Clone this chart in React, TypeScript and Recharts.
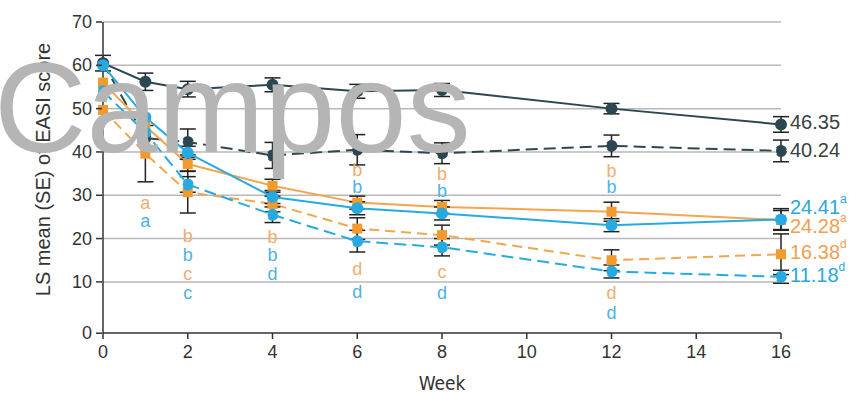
import React from 'react';
import {
  LineChart, Line, XAxis, YAxis, CartesianGrid, ErrorBar, ReferenceDot, Label,
} from 'recharts';

const weeks = [0, 1, 2, 4, 6, 8, 12, 16];

// Series values (LS mean EASI score)
const darkSolid = [60.5, 56.2, 54.5, 55.5, 54.0, 54.3, 50.0, 46.35];
const darkSolidErr = [1.8, 2.0, 1.8, 1.6, 1.6, 1.5, 1.2, 1.8];
const darkDashed = [60.5, 43.2, 42.3, 39.2, 40.5, 39.7, 41.4, 40.24];
const darkDashedErr = [null, null, 3.0, 3.0, 3.5, 2.4, 2.5, 2.5];
const orangeSolid = [56.0, 46.0, 37.2, 32.2, 28.3, 27.3, 26.2, 24.28];
const orangeSolidErr = [null, null, 1.6, 1.5, 1.5, 1.5, 2.2, 2.2];
const blueSolid = [60.0, 48.0, 39.8, 29.6, 27.0, 25.8, 23.1, 24.41];
const blueSolidErr = [null, null, 1.5, 1.5, 1.5, 1.5, 1.5, 2.5];
const orangeDashed = [49.7, 39.6, 30.7, 28.0, 22.3, 20.8, 15.0, 16.38];
const orangeDashedErr = [null, 6.5, 4.8, 1.8, 2.5, 2.3, 2.4, 4.7];
const blueDashed = [54.0, 44.5, 32.5, 25.5, 19.4, 18.0, 12.4, 11.18];
const blueDashedErr = [null, null, 1.8, 1.8, 2.5, 2.0, 1.5, 1.5];

const xTicks = [0, 2, 4, 6, 8, 10, 12, 14, 16];
const yTicks = [0, 10, 20, 30, 40, 50, 60, 70];
const gridValues = [10, 20, 30, 40, 50, 60, 70];

// Significance letters: week, letter, value level
const orangeLetters = [
  { week: 1, text: 'a', level: 28.2 },
  { week: 2, text: 'b', level: 20.6 },
  { week: 2, text: 'c', level: 11.9 },
  { week: 4, text: 'b', level: 20.5 },
  { week: 6, text: 'b', level: 36.0 },
  { week: 6, text: 'd', level: 13.0 },
  { week: 8, text: 'b', level: 35.0 },
  { week: 8, text: 'c', level: 12.4 },
  { week: 12, text: 'b', level: 35.8 },
  { week: 12, text: 'd', level: 7.5 },
];
const blueLetters = [
  { week: 1, text: 'a', level: 24.1 },
  { week: 2, text: 'b', level: 16.3 },
  { week: 2, text: 'c', level: 7.6 },
  { week: 4, text: 'b', level: 16.3 },
  { week: 4, text: 'd', level: 11.8 },
  { week: 6, text: 'b', level: 32.1 },
  { week: 6, text: 'd', level: 7.8 },
  { week: 8, text: 'b', level: 31.0 },
  { week: 8, text: 'd', level: 7.6 },
  { week: 12, text: 'b', level: 32.1 },
  { week: 12, text: 'd', level: 2.9 },
];

// End labels
const endLabels = [
  { value: 46.35, text: '46.35', sup: '', color: '#3a3f42', dy: -2 },
  { value: 40.24, text: '40.24', sup: '', color: '#3a3f42', dy: -1 },
  { value: 24.41, text: '24.41', sup: 'a', color: '#2aa7dd', dy: -12 },
  { value: 24.28, text: '24.28', sup: 'a', color: '#f0a050', dy: 6 },
  { value: 16.38, text: '16.38', sup: 'd', color: '#f0a050', dy: -2 },
  { value: 11.18, text: '11.18', sup: 'd', color: '#2aa7dd', dy: -2 },
];

const data = weeks.map((w, i) => ({
  week: w,
  darkSolid: darkSolid[i], darkSolidErr: darkSolidErr[i],
  darkDashed: darkDashed[i], darkDashedErr: darkDashedErr[i],
  orangeSolid: orangeSolid[i], orangeSolidErr: orangeSolidErr[i],
  blueSolid: blueSolid[i], blueSolidErr: blueSolidErr[i],
  orangeDashed: orangeDashed[i], orangeDashedErr: orangeDashedErr[i],
  blueDashed: blueDashed[i], blueDashedErr: blueDashedErr[i],
}));

const DARK = '#2c4750';
const ORANGE = '#f39a2c';
const ORANGE_LINE = '#f2a64e';
const BLUE = '#27aae1';
const ORANGE_TXT = '#f1ad72';
const BLUE_TXT = '#4fb3e2';
const AXIS = '#333';
const FONT = '"Liberation Sans", Arial, sans-serif';
const NARROW = '"Liberation Sans Narrow", "DejaVu Sans Condensed", "Liberation Sans", sans-serif';

const SquareDot = (props: any) => {
  const { cx, cy } = props;
  if (cx == null || cy == null) return null;
  return <rect x={cx - 5} y={cy - 5} width={10} height={10} fill={ORANGE} />;
};

// Y tick: the zero label sits on the x-axis line in the original figure
const YTick = (props: any) => {
  const { x, y, payload } = props;
  const shift = payload.value === 0 ? 8 : 0;
  const yy = y + shift;
  return (
    <g>
      <line x1={x + 1} x2={x + 7} y1={yy} y2={yy} stroke={AXIS} strokeWidth={1.5} />
      <text x={x - 3} y={yy} textAnchor="end" dominantBaseline="central" fill={AXIS} fontSize={18} fontFamily={FONT}>
        {payload.value}
      </text>
    </g>
  );
};

const YLabel = (props: any) => {
  const vb = props.viewBox || {};
  const cx = 43;
  const cy = (vb.y || 0) + (vb.height || 0) / 2 - 8;
  return (
    <text x={cx} y={cy} transform={`rotate(-90, ${cx}, ${cy})`} textAnchor="middle" dominantBaseline="central"
      fill={AXIS} fontSize={20} fontFamily={FONT}>
      LS mean (SE) of EASI score
    </text>
  );
};

const EndLabel = (row: any) => (props: any) => {
  const vb = props.viewBox || {};
  const x = (vb.x || 0) + (vb.width || 0) / 2 + 9;
  const y = (vb.y || 0) + (vb.height || 0) / 2 + row.dy;
  return (
    <text x={x} y={y} fill={row.color} fontSize={20} fontFamily={FONT} dominantBaseline="central">
      <tspan>{row.text}</tspan>
      {row.sup ? <tspan dy={-8} fontSize={12}>{row.sup}</tspan> : null}
    </text>
  );
};

export default function App() {
  return (
    <div style={{ position: 'absolute', left: 0, top: 0, width: 853, height: 393, background: '#fff', overflow: 'hidden' }}>
      <LineChart width={853} height={393} data={data} margin={{ top: 22, right: 72, bottom: 0, left: 0 }}>
        <CartesianGrid horizontal vertical={false} horizontalValues={gridValues} stroke="#b8b8b8" strokeWidth={1.5} />
        <XAxis
          dataKey="week" type="number" domain={[0, 16]} ticks={xTicks} height={60}
          axisLine={{ stroke: AXIS, strokeWidth: 1.5 }} tickLine={{ stroke: AXIS, strokeWidth: 1.5 }} tickSize={6} tickMargin={6}
          tick={{ fill: AXIS, fontSize: 18, fontFamily: FONT }}
        >
          <Label value="Week" position="insideBottom" offset={3} fill={AXIS} fontSize={19} fontFamily={NARROW} />
        </XAxis>
        <YAxis
          type="number" domain={[-1.8, 70]} ticks={yTicks} width={103} allowDataOverflow
          axisLine={{ stroke: AXIS, strokeWidth: 1.5 }} tickLine={false} tickSize={6}
          tick={<YTick />}
        >
          <Label content={<YLabel />} />
        </YAxis>

        <Line dataKey="darkSolid" stroke={DARK} strokeWidth={2} isAnimationActive={false}
          dot={{ r: 5, fill: DARK, stroke: DARK }}>
          <ErrorBar dataKey="darkSolidErr" direction="y" width={8} stroke="#222" strokeWidth={1.5} />
        </Line>
        <Line dataKey="darkDashed" stroke={DARK} strokeWidth={2} strokeDasharray="12 6" isAnimationActive={false}
          dot={{ r: 5, fill: DARK, stroke: DARK }}>
          <ErrorBar dataKey="darkDashedErr" direction="y" width={8} stroke="#222" strokeWidth={1.5} />
        </Line>
        <Line dataKey="orangeSolid" stroke={ORANGE_LINE} strokeWidth={2} isAnimationActive={false} dot={<SquareDot />}>
          <ErrorBar dataKey="orangeSolidErr" direction="y" width={8} stroke="#222" strokeWidth={1.5} />
        </Line>
        <Line dataKey="orangeDashed" stroke={ORANGE_LINE} strokeWidth={2} strokeDasharray="10 6" isAnimationActive={false} dot={<SquareDot />}>
          <ErrorBar dataKey="orangeDashedErr" direction="y" width={8} stroke="#222" strokeWidth={1.5} />
        </Line>
        <Line dataKey="blueSolid" stroke={BLUE} strokeWidth={2} isAnimationActive={false}
          dot={{ r: 5, fill: BLUE, stroke: BLUE }}>
          <ErrorBar dataKey="blueSolidErr" direction="y" width={8} stroke="#222" strokeWidth={1.5} />
        </Line>
        <Line dataKey="blueDashed" stroke={BLUE} strokeWidth={2} strokeDasharray="12 6" isAnimationActive={false}
          dot={{ r: 5, fill: BLUE, stroke: BLUE }}>
          <ErrorBar dataKey="blueDashedErr" direction="y" width={8} stroke="#222" strokeWidth={1.5} />
        </Line>

        {orangeLetters.map((l, i) => (
          <ReferenceDot key={'o' + i} x={l.week} y={l.level} r={0} fill="none" stroke="none" ifOverflow="visible"
            label={{ value: l.text, position: 'center', fill: ORANGE_TXT, fontSize: 18, fontFamily: FONT }} />
        ))}
        {blueLetters.map((l, i) => (
          <ReferenceDot key={'b' + i} x={l.week} y={l.level} r={0} fill="none" stroke="none" ifOverflow="visible"
            label={{ value: l.text, position: 'center', fill: BLUE_TXT, fontSize: 18, fontFamily: FONT }} />
        ))}
        {endLabels.map((l, i) => (
          <ReferenceDot key={'e' + i} x={16} y={l.value} r={0} fill="none" stroke="none" ifOverflow="visible"
            label={{ content: EndLabel(l) }} />
        ))}
      </LineChart>
      <svg width={853} height={393} style={{ position: 'absolute', left: 0, top: 0, pointerEvents: 'none' }}>
        <text x={-6} y={152} fill="#b5b5b5" fontSize={128} fontFamily={FONT}>Campos</text>
      </svg>
    </div>
  );
}
